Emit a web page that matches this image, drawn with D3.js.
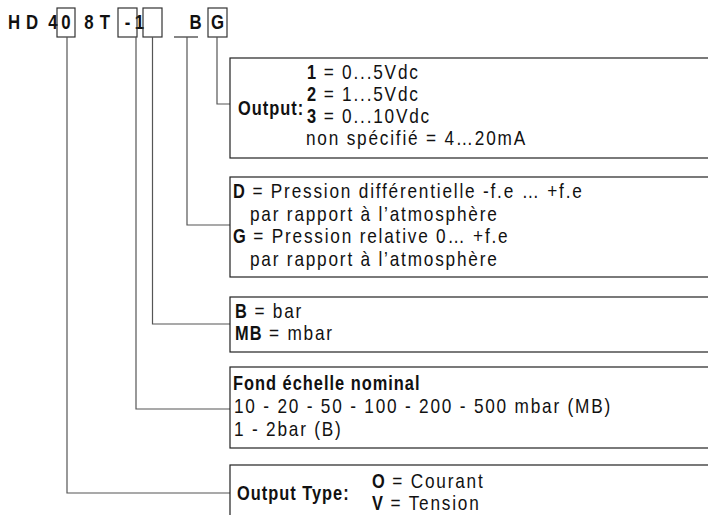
<!DOCTYPE html>
<html>
<head>
<meta charset="utf-8">
<script src="https://cdn.jsdelivr.net/npm/d3@7"></script>
<style>
  body { margin: 0; background: #fff; }
  svg text { font-family: "Liberation Sans", Arial, sans-serif; fill: #111; }
</style>
</head>
<body>
<div id="chart"></div>
<script>
// Part number code, one entry per slot
const codeText = ["H", "D", "4", "0", "8", "T", "-", "1", "", "", "B", "G"];
const boxedSlots = [3, 6, 8, 11];
const underlineSlots = [9];

// Legend contents
const outputCodes = ["1", "2", "3"];
const outputValues = ["0...5Vdc", "1...5Vdc", "0...10Vdc"];
const outputDefault = "non spécifié = 4…20mA";
const pressureCodes = ["D", "G"];
const pressureNames = ["Pression différentielle -f.e … +f.e", "Pression relative 0… +f.e"];
const pressureRef = "par rapport à l’atmosphère";
const unitCodes = ["B", "MB"];
const unitNames = ["bar", "mbar"];
const rangeTitle = "Fond échelle nominal";
const rangeMbar = ["10", "20", "50", "100", "200", "500"];
const rangeBar = ["1", "2"];
const typeCodes = ["O", "V"];
const typeNames = ["Courant", "Tension"];

// which code slot feeds which legend box (box order top to bottom)
const leaderSlots = [11, 9, 8, 6, 3];

(function () {
    const width = 708;
    const height = 515;
    const stroke = "#333";
    const narrow = 0.82;   // condensed look from a regular face

    // layout of the code row
    const slotX = [14, 32, 53, 66, 89, 105, 127.5, 139.5, 152.5, 186, 195.5, 217.5];
    const slotW = [0, 0, 0, 18, 0, 0, 19, 0, 19, 24, 0, 19];
    const leaderX = {3: 67, 6: 136, 8: 152.5, 9: 187, 11: 217};
    const codeBaseline = 29;
    const codeTop = 8, codeBottom = 37;

    // legend boxes
    const boxLeft = 230;
    const boxes = [
        {top: 58, bottom: 158, leaderY: 104},
        {top: 177, bottom: 277, leaderY: 225},
        {top: 297, bottom: 352, leaderY: 324},
        {top: 367, bottom: 448, leaderY: 409},
        {top: 465, bottom: 520, leaderY: 493}
    ];

    const svg = d3.select("#chart")
        .append("svg")
        .attr("width", width)
        .attr("height", height);

    // Code row
    const code = svg.append("g");
    code.selectAll("g")
        .data(codeText)
        .join("g")
        .attr("transform", (d, i) => `translate(${slotX[i]},${codeBaseline}) scale(${narrow},1)`)
        .append("text")
        .attr("text-anchor", "middle")
        .attr("font-size", 20.5)
        .attr("font-weight", "bold")
        .text(d => d);
    code.selectAll("rect")
        .data(boxedSlots)
        .join("rect")
        .attr("x", d => slotX[d] - slotW[d] / 2)
        .attr("y", codeTop)
        .attr("width", d => slotW[d])
        .attr("height", codeBottom - codeTop)
        .attr("fill", "none")
        .attr("stroke", stroke)
        .attr("stroke-width", 1.2);
    code.selectAll("line.under")
        .data(underlineSlots)
        .join("line")
        .attr("class", "under")
        .attr("x1", d => slotX[d] - slotW[d] / 2)
        .attr("x2", d => slotX[d] + slotW[d] / 2)
        .attr("y1", codeBottom)
        .attr("y2", codeBottom)
        .attr("stroke", stroke)
        .attr("stroke-width", 1.2);

    // Leaders
    const line = d3.line();
    svg.append("g").selectAll("path")
        .data(leaderSlots)
        .join("path")
        .attr("d", (s, i) => line([[leaderX[s], codeBottom], [leaderX[s], boxes[i].leaderY], [boxLeft, boxes[i].leaderY]]))
        .attr("fill", "none")
        .attr("stroke", "#555")
        .attr("stroke-width", 1.2);

    // Boxes
    svg.append("g").selectAll("rect")
        .data(boxes)
        .join("rect")
        .attr("x", boxLeft)
        .attr("y", d => d.top)
        .attr("width", width)
        .attr("height", d => d.bottom - d.top)
        .attr("fill", "none")
        .attr("stroke", "#222")
        .attr("stroke-width", 1.2);

    // a line of runs: [text, bold]
    let _addLine = function (g, x, y, runs) {
        const t = g.append("g")
            .attr("transform", `translate(${x},${y}) scale(${narrow},1)`)
            .append("text")
            .attr("xml:space", "preserve")
            .style("white-space", "pre");
        runs.forEach(r => {
            t.append("tspan")
                .attr("font-weight", r[1] ? "bold" : "normal")
                .attr("font-size", r[1] ? 20 : 21)
                .attr("letter-spacing", (r[1] ? 1 : 1.8) / narrow)
                .text(r[0]);
        });
        return t;
    };

    const lh = 22;
    // Box 1: output
    const g1 = svg.append("g");
    _addLine(g1, 238, 115, [["Output:", true]]);
    outputCodes.forEach((c, i) => _addLine(g1, 307, 79 + i * lh, [[c, true], [" = " + outputValues[i], false]]));
    _addLine(g1, 306, 79 + 3 * lh, [[outputDefault, false]]);

    // Box 2: pressure type
    const g2 = svg.append("g");
    pressureCodes.forEach((c, i) => {
        _addLine(g2, 233, 198 + i * 2 * 22.5, [[c, true], [" = " + pressureNames[i], false]]);
        _addLine(g2, 250, 198 + (i * 2 + 1) * 22.5, [[pressureRef, false]]);
    });

    // Box 3: units
    const g3 = svg.append("g");
    unitCodes.forEach((c, i) => _addLine(g3, 235, 318 + i * lh, [[c, true], [" = " + unitNames[i], false]]));

    // Box 4: range
    const g4 = svg.append("g");
    _addLine(g4, 233, 390, [[rangeTitle, true]]);
    _addLine(g4, 234, 413, [[rangeMbar.join(" - ") + " mbar (MB)", false]]);
    _addLine(g4, 234, 436, [[rangeBar.join(" - ") + "bar (B)", false]]);

    // Box 5: output type
    const g5 = svg.append("g");
    _addLine(g5, 237, 500, [["Output Type:", true]]);
    typeCodes.forEach((c, i) => _addLine(g5, 372, 488 + i * 22, [[c, true], [" = " + typeNames[i], false]]));
})();
</script>
</body>
</html>
